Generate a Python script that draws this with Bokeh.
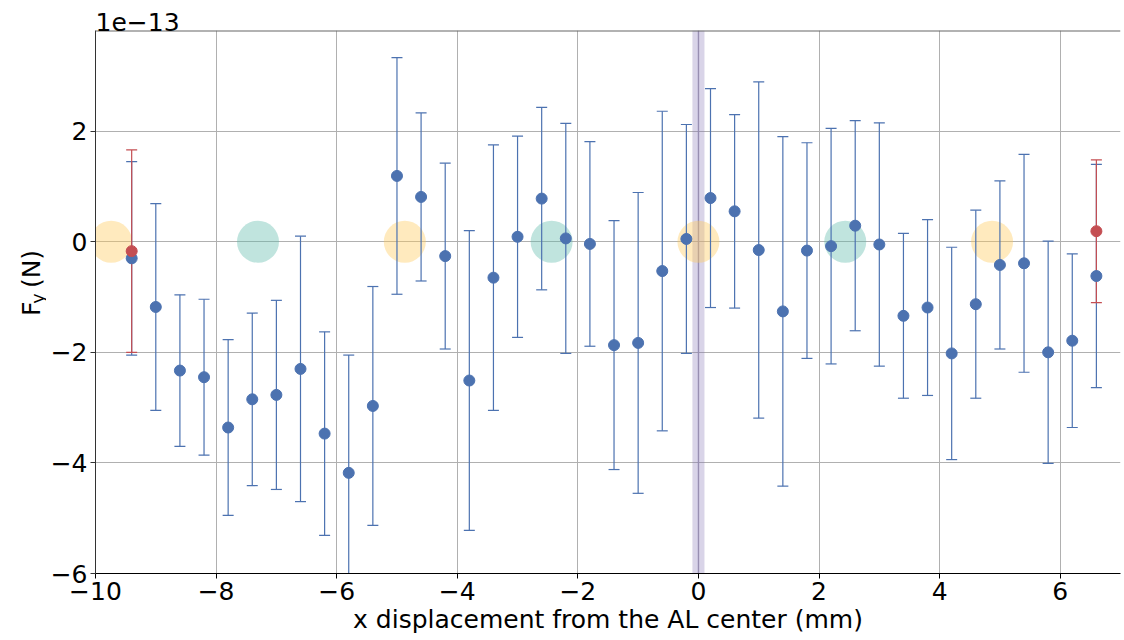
import math

from bokeh.core.properties import value
from bokeh.embed import file_html
from bokeh.layouts import row
from bokeh.models import (BoxAnnotation, ColumnDataSource, CustomJSTickFormatter,
                          FixedTicker, Span)
from bokeh.plotting import figure
from bokeh.resources import INLINE

# Lateral force F_y (units of 1e-13 N) versus x displacement (mm)
X_POS = [-9.4, -9.0, -8.6, -8.2, -7.8, -7.4, -7.0, -6.6, -6.2, -5.8, -5.4,
         -5.0, -4.6, -4.2, -3.8, -3.4, -3.0, -2.6, -2.2, -1.8, -1.4, -1.0,
         -0.6, -0.2, 0.2, 0.6, 1.0, 1.4, 1.8, 2.2, 2.6, 3.0, 3.4, 3.8, 4.2,
         4.6, 5.0, 5.4, 5.8, 6.2, 6.6]
FY = [-0.30, -1.18, -2.33, -2.45, -3.36, -2.85, -2.77, -2.30, -3.47, -4.18, -2.97,
      1.19, 0.81, -0.26, -2.51, -0.65, 0.09, 0.78, 0.06, -0.04, -1.87, -1.83,
      -0.53, 0.05, 0.79, 0.55, -0.15, -1.26, -0.16, -0.08, 0.29, -0.05, -1.34, -1.19, -2.02,
      -1.13, -0.42, -0.39, -2.00, -1.79, -0.62]
FY_ERR = [1.75, 1.87, 1.37, 1.41, 1.59, 1.56, 1.71, 2.40, 1.84, 2.13, 2.16,
          2.14, 1.52, 1.68, 2.71, 2.40, 1.82, 1.65, 2.08, 1.85, 2.25, 2.72,
          2.89, 2.07, 1.98, 1.75, 3.04, 3.16, 1.95, 2.13, 1.90, 2.20, 1.49, 1.59, 1.92,
          1.70, 1.52, 1.97, 2.01, 1.57, 2.02]

# Edge reference measurements
EDGE_X = [-9.4, 6.6]
EDGE_FY = [-0.17, 0.19]
EDGE_ERR = [1.83, 1.29]

# Site markers along y = 0
SITE_X = [-9.74, -7.305, -4.87, -2.435, 0.0, 2.435, 4.87]
SITE_Y = [0, 0, 0, 0, 0, 0, 0]
SITE_COLOR = ["#ffca5c", "#61bbac", "#ffca5c", "#61bbac", "#ffca5c", "#61bbac", "#ffca5c"]

# AL center band
BAND_LEFT, BAND_RIGHT, BAND_CENTER = -0.1, 0.1, 0.0

X_TICKS = [-10, -8, -6, -4, -2, 0, 2, 4, 6]
Y_TICKS = [-6, -4, -2, 0, 2]
X_MIN, X_MAX = -10, 7
Y_MIN, Y_MAX = -6, 3.82
SCALE_TEXT = "1e\u221213"
X_LABEL = "x displacement from the AL center (mm)"

BLUE = "#4c72b0"
RED = "#c44e52"
FONT = "DejaVu Sans"
FS = "25px"

LABEL_W = 46          # width of the strip holding the y-axis label
W, H = 1124, 640

p = figure(width=W - LABEL_W, height=H, x_range=(X_MIN, X_MAX), y_range=(Y_MIN, Y_MAX),
           output_backend="svg", toolbar_location=None,
           min_border_left=95 - LABEL_W, min_border_right=4, min_border_top=30,
           min_border_bottom=67)
p.outline_line_color = None
p.background_fill_color = "white"
p.border_fill_color = "white"

# multiplier shown above the frame
p.title.text = SCALE_TEXT
p.title.align = "left"
p.title.text_font = FONT
p.title.text_font_size = FS
p.title.text_font_style = "normal"
p.title.text_color = "black"
p.title.standoff = 0
p.title.offset = 0

# grid
for g in (p.xgrid, p.ygrid):
    g.grid_line_color = "#b0b0b0"
    g.grid_line_width = 1
p.xgrid.ticker = FixedTicker(ticks=X_TICKS)
p.ygrid.ticker = FixedTicker(ticks=Y_TICKS)

minus_fmt = CustomJSTickFormatter(code="""
    return tick < 0 ? "\\u2212" + Math.abs(tick).toString() : tick.toString();
""")

for ax, ticks in ((p.xaxis, X_TICKS), (p.yaxis, Y_TICKS)):
    ax.ticker = FixedTicker(ticks=ticks)
    ax.formatter = minus_fmt
    ax.major_tick_out = 5
    ax.major_tick_in = 0
    ax.minor_tick_line_color = None
    ax.major_label_text_font = FONT
    ax.major_label_text_font_size = FS
    ax.major_label_text_color = "black"
    ax.major_label_standoff = 3
    ax.axis_line_width = 1
    ax.major_tick_line_width = 1

p.xaxis.axis_line_color = "black"
p.xaxis.major_tick_line_color = "black"
p.yaxis.axis_line_color = "#333333"
p.yaxis.major_tick_line_color = "#333333"

p.xaxis.axis_label = X_LABEL
p.xaxis.axis_label_text_font = FONT
p.xaxis.axis_label_text_font_size = FS
p.xaxis.axis_label_text_font_style = "normal"
p.xaxis.axis_label_text_color = "black"
p.xaxis.axis_label_standoff = 2
p.yaxis.axis_label = None

# top spine
p.add_layout(Span(location=Y_MAX, dimension="width", line_color="#666666", line_width=2))

# AL center band
p.add_layout(BoxAnnotation(left=BAND_LEFT, right=BAND_RIGHT, fill_color="#8172b3",
                           fill_alpha=0.3, line_color=None, level="underlay"))
p.add_layout(Span(location=BAND_CENTER, dimension="height", line_color="#8172b3",
                  line_alpha=0.3, line_width=2, level="underlay"))

# site markers
p.scatter(SITE_X, SITE_Y, size=42, fill_color=SITE_COLOR, fill_alpha=0.4, line_color=None)

main = ColumnDataSource(dict(
    x=X_POS, y=FY,
    lo=[v - e for v, e in zip(FY, FY_ERR)],
    hi=[v + e for v, e in zip(FY, FY_ERR)],
))
edge = ColumnDataSource(dict(
    x=EDGE_X, y=EDGE_FY,
    lo=[v - e for v, e in zip(EDGE_FY, EDGE_ERR)],
    hi=[v + e for v, e in zip(EDGE_FY, EDGE_ERR)],
))

# error bars (stems + caps)
for src, col in ((main, BLUE), (edge, RED)):
    p.segment(x0="x", y0="lo", x1="x", y1="hi", source=src, line_color=col, line_width=1.2)
    p.scatter(x="x", y="lo", source=src, marker="dash", size=11, line_color=col, line_width=1.2)
    p.scatter(x="x", y="hi", source=src, marker="dash", size=11, line_color=col, line_width=1.2)

# points
p.scatter(x="x", y="y", source=main, size=11, fill_color=BLUE, line_color=BLUE)
p.scatter(x="x", y="y", source=edge, size=11, fill_color=RED, line_color=RED)

# strip with the rotated y-axis label: F, subscript y, (N)
lab = figure(width=LABEL_W, height=H, x_range=(0, LABEL_W), y_range=(0, H),
             output_backend="svg", toolbar_location=None,
             x_axis_location=None, y_axis_location=None,
             min_border=0, min_border_left=0, min_border_right=0,
             min_border_top=0, min_border_bottom=0)
lab.outline_line_color = None
lab.xgrid.visible = False
lab.ygrid.visible = False
lab.background_fill_color = "white"
lab.border_fill_color = "white"

label_style = dict(angle=math.pi / 2, text_font=value(FONT), text_color="black",
                   text_align="left", text_baseline="alphabetic")
lab.text(x=[31], y=[H - 336.4], text=["F"], text_font_size=FS, **label_style)
lab.text(x=[37], y=[H - 322], text=["y"], text_font_size="17.5px", **label_style)
lab.text(x=[31], y=[H - 303.6], text=["(N)"], text_font_size=FS, **label_style)

layout = row(lab, p, spacing=0)
open("out.html", "w").write(file_html(layout, INLINE))
